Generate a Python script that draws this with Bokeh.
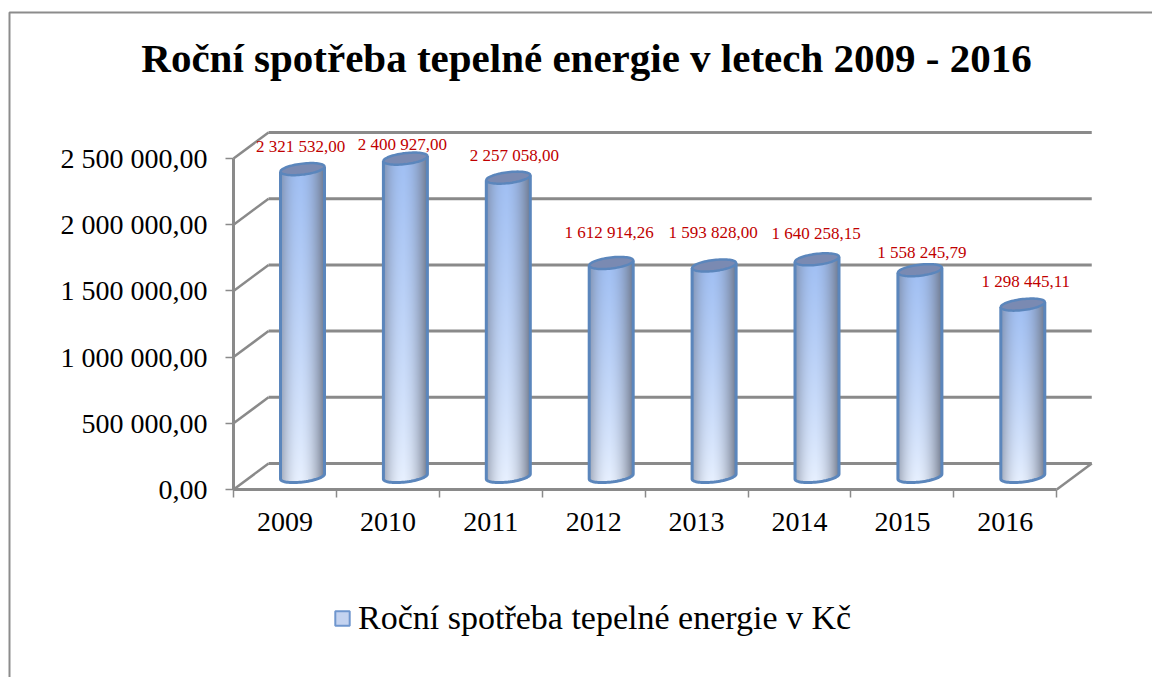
import numpy as np
from bokeh.embed import file_html
from bokeh.resources import INLINE
from bokeh.plotting import figure
from bokeh.core.properties import value
from bokeh.models import ColumnDataSource, FixedTicker, Label, Legend, LegendItem

# --- data ---
years = ["2009", "2010", "2011", "2012", "2013", "2014", "2015", "2016"]
spotreba = [2321532.00, 2400927.00, 2257058.00, 1612914.26, 1593828.00, 1640258.15, 1558245.79, 1298445.11]
labels = ["2 321 532,00", "2 400 927,00", "2 257 058,00", "1 612 914,26",
          "1 593 828,00", "1 640 258,15", "1 558 245,79", "1 298 445,11"]
y_ticks = [0, 500000, 1000000, 1500000, 2000000, 2500000]
y_tick_labels = ["0,00", "500 000,00", "1 000 000,00", "1 500 000,00", "2 000 000,00", "2 500 000,00"]
title = "Roční spotřeba tepelné energie v letech 2009 - 2016"
series_name = "Roční spotřeba tepelné energie v Kč"

# --- layout scale (canvas pixels) ---
W, H = 1152, 677
PX = 1 / 102.9          # category units per pixel
PY = 2500000 / 331.0    # value units per pixel
X0, Y0 = 284.5, 489.0   # canvas position of category 0 / value 0
SERIF = "Liberation Serif"
GREY = "#8A8A8A"

fig = figure(width=W, height=H, output_backend="svg", toolbar_location=None,
             x_range=(-X0 * PX, (W - X0) * PX),
             y_range=((Y0 - H) * PY, Y0 * PY),
             min_border=0, outline_line_color=None, background_fill_color="white")
fig.xgrid.visible = False
fig.ygrid.visible = False

# axes
xa = fig.xaxis[0]
xa.fixed_location = 0
xa.bounds = (-0.5, len(years) - 0.5)
xa.ticker = FixedTicker(ticks=list(range(len(years))),
                        minor_ticks=[i - 0.5 for i in range(len(years) + 1)])
xa.major_label_overrides = {i: y for i, y in enumerate(years)}
xa.major_tick_line_color = None
xa.minor_tick_line_color = GREY
xa.minor_tick_line_width = 1.5
xa.minor_tick_out = 8
xa.minor_tick_in = 0
xa.axis_line_color = GREY
xa.axis_line_width = 3
xa.major_label_text_font = SERIF
xa.major_label_text_font_size = "28px"
xa.major_label_text_color = "#000000"
xa.major_label_standoff = 15

ya = fig.yaxis[0]
ya.fixed_location = -0.5
ya.bounds = (0, 2500000)
ya.ticker = FixedTicker(ticks=y_ticks)
ya.major_label_overrides = dict(zip(y_ticks, y_tick_labels))
ya.major_tick_line_color = GREY
ya.major_tick_line_width = 1.5
ya.major_tick_out = 8
ya.major_tick_in = 0
ya.minor_tick_line_color = None
ya.axis_line_color = GREY
ya.axis_line_width = 3
ya.major_label_text_font = SERIF
ya.major_label_text_font_size = "28px"
ya.major_label_text_color = "#000000"
ya.major_label_standoff = 18

# 3D walls
dx, dy = 35 * PX, 26 * PY
x_left, x_right = -0.5, len(years) - 0.5
fig.segment(x0=[x_left + dx] * len(y_ticks), x1=[x_right + dx] * len(y_ticks),
            y0=[t + dy for t in y_ticks], y1=[t + dy for t in y_ticks],
            line_color=GREY, line_width=3)
fig.segment(x0=[x_left] * len(y_ticks), x1=[x_left + dx] * len(y_ticks),
            y0=y_ticks, y1=[t + dy for t in y_ticks], line_color=GREY, line_width=2.5)
fig.segment(x0=[x_right], x1=[x_right + dx], y0=[0], y1=[dy], line_color=GREY, line_width=2.5)

# cylinders
A, B, S = 22.0, 5.5, 2.5    # pixel half-width, ellipse half-height, tilt
CX_OFF = 17.5 * PX
BASE = 13 * PY
T = np.linspace(0, 2 * np.pi, 73)
EDGE = "#5B86BC"


def body_image(h_px):
    w_px = int(2 * A) + 1
    h = int(round(h_px))
    u = (np.arange(w_px) + 0.5 - w_px / 2) / A
    v = (np.arange(h) + 0.5) / h
    uu, vv = np.meshgrid(u, v)
    top = np.array([160, 191, 243.0])
    bot = np.array([234, 242, 255.0])
    dark = np.array([108, 116, 134.0])
    col = bot + (top - bot)[None, None, :] * vv[..., None] ** 0.8
    shade = np.clip(np.abs(uu + 0.12) / 1.12, 0, 1) ** 2.0 * 0.9
    col = col * (1 - shade[..., None]) + dark * shade[..., None]
    yy = (np.arange(h) + 0.5)[:, None] * np.ones((1, w_px))
    uc = np.clip(uu, -1, 1)
    arc = (B + S) - B * np.sqrt(1 - uc ** 2) + S * uc
    alpha = np.where((yy >= arc) & (np.abs(uu) <= 1), 255, 0).astype(np.uint32)
    c = col.astype(np.uint32)
    return (alpha << 24) | (c[..., 2] << 16) | (c[..., 1] << 8) | c[..., 0]


top_patches_x, top_patches_y, outline_x, outline_y = [], [], [], []
for i, val in enumerate(spotreba):
    cx = i + CX_OFF
    y_top = BASE + val
    y_bot = BASE - (B + S) * PY
    h_px = (y_top - y_bot) / PY
    img = body_image(h_px).reshape(int(round(h_px)), int(2 * A) + 1)
    fig.image_rgba(image=[img], x=[cx - A * PX], y=[y_bot], dw=[2 * A * PX], dh=[h_px * PY])
    ex = cx + A * PX * np.cos(T)
    ey = y_top + (B * np.sin(T) + S * np.cos(T)) * PY
    top_patches_x.append(ex.tolist())
    top_patches_y.append(ey.tolist())
    tt = np.linspace(np.pi, 2 * np.pi, 37)
    ax = cx + A * PX * np.cos(tt)
    ay = BASE + (B * np.sin(tt) + S * np.cos(tt)) * PY
    outline_x.append([cx - A * PX] + ax.tolist() + [cx + A * PX])
    outline_y.append([y_top - S * PY] + ay.tolist() + [y_top + S * PY])

fig.multi_line(xs=outline_x, ys=outline_y, line_color=EDGE, line_width=3)
fig.patches(xs=top_patches_x, ys=top_patches_y, fill_color="#7A8AB2", line_color=EDGE, line_width=2.5)

# data labels
lab_dx = [-2, -3, 6, -2, -1, -1, 2, 3]
lab_dy = [-23, -14, -22, -30, -33, -26, -18, -23]
src = ColumnDataSource(dict(x=[i + CX_OFF for i in range(len(years))],
                            y=[BASE + v for v in spotreba], text=labels,
                            xo=lab_dx, yo=lab_dy))
fig.text(x="x", y="y", text="text", source=src, x_offset="xo", y_offset="yo",
         text_color="#C00000", text_font=value(SERIF), text_font_size="17px",
         text_align="center", text_baseline="middle")

# title
fig.add_layout(Label(x=586, y=H - 57, x_units="screen", y_units="screen", text=title,
                     text_font=SERIF, text_font_style="bold", text_font_size="41px",
                     text_color="#000000", text_align="center", text_baseline="middle"))

# chart frame (top and left edges; the rest lies outside the picture)
fx, fy = (9 - X0) * PX, (Y0 - 12) * PY
fig.line(x=[(W + 50 - X0) * PX, fx, fx], y=[fy, fy, (Y0 - H - 50) * PY],
         line_color="#8C8C8C", line_width=2)

# legend
swatch = fig.quad(left=[-50], right=[-49], top=[-1], bottom=[-2],
                  fill_color="#C4D3F0", line_color="#6F96CE", line_width=2)
leg = Legend(items=[LegendItem(label=series_name, renderers=[swatch])],
             location=(333, H - 637), border_line_color=None, background_fill_alpha=0,
             margin=0, padding=0, glyph_width=18, glyph_height=18, label_standoff=7,
             label_text_font=SERIF, label_text_font_size="34px", label_text_color="#000000")
fig.add_layout(leg, "center")

open("out.html", "w").write(file_html(fig, INLINE))
